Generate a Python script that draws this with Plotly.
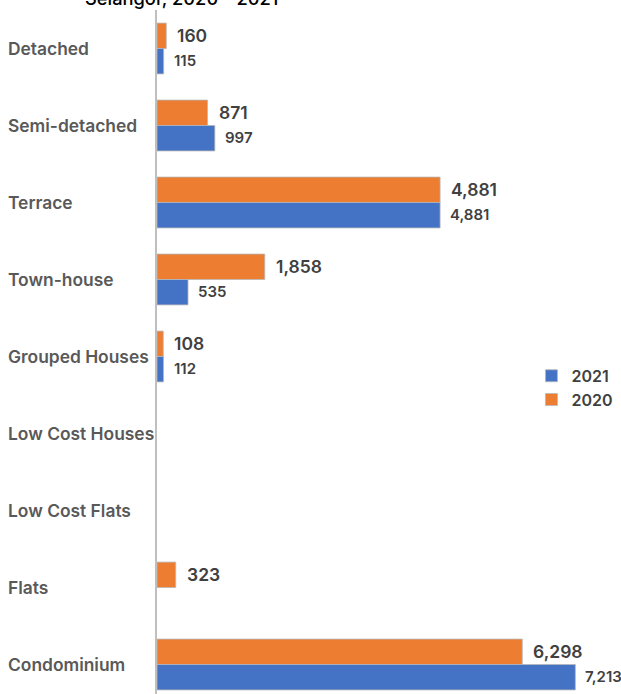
import plotly.graph_objects as go

# Housing categories, top to bottom
categories = [
    "Detached", "Semi-detached", "Terrace", "Town-house", "Grouped Houses",
    "Low Cost Houses", "Low Cost Flats", "Flats", "Condominium",
]
# Units per category and year (None = no units recorded)
values_2020 = [160, 871, 4881, 1858, 108, None, None, 323, 6298]
values_2021 = [115, 997, 4881, 535, 112, None, None, None, 7213]

title_text = "Selangor, 2020 - 2021"

ORANGE = "#ED7D31"
BLUE = "#4472C4"
TEXT = "#404040"
FONT = "Inter"

fig = go.Figure()
fig.add_trace(go.Bar(
    y=categories, x=values_2020, name="2020", orientation="h",
    marker=dict(color=ORANGE, line=dict(color="#B8B8B8", width=0.8)),
))
fig.add_trace(go.Bar(
    y=categories, x=values_2021, name="2021", orientation="h",
    marker=dict(color=BLUE, line=dict(color="#B8B8B8", width=0.8)),
))

annotations = []
# Category labels, left aligned
for c in categories:
    annotations.append(dict(
        x=-0.325, xref="paper", y=c, yref="y", text=c, showarrow=False,
        xanchor="left", yanchor="middle",
        font=dict(family=FONT, size=17.4, color="#595959", weight=600),
    ))
# Value labels next to each bar
for c, v in zip(categories, values_2020):
    if v is not None:
        annotations.append(dict(
            x=v, y=c, xref="x", yref="y", text=f"{v:,}", showarrow=False,
            xanchor="left", yanchor="middle", xshift=9, yshift=13,
            font=dict(family=FONT, size=17.5, color=TEXT, weight=600),
        ))
for c, v in zip(categories, values_2021):
    if v is not None:
        annotations.append(dict(
            x=v, y=c, xref="x", yref="y", text=f"{v:,}", showarrow=False,
            xanchor="left", yanchor="middle", xshift=8, yshift=-12,
            font=dict(family=FONT, size=15, color=TEXT, weight=600),
        ))
# Title (last line sits at the very top edge)
annotations.append(dict(
    x=-0.16, xref="paper", y=1.0, yref="paper", text=title_text,
    showarrow=False, xanchor="left", yanchor="bottom", yshift=-1,
    font=dict(family=FONT, size=18.3, color="#000000", weight=500),
))

fig.update_layout(
    width=621, height=694,
    margin=dict(l=157, r=0, t=10, b=0, autoexpand=False),
    plot_bgcolor="white", paper_bgcolor="white",
    barmode="group", bargap=0.34, bargroupgap=0,
    showlegend=True,
    legend=dict(
        x=0.807, y=0.49, xanchor="left", yanchor="top",
        traceorder="reversed", bgcolor="rgba(0,0,0,0)",
        font=dict(family=FONT, size=16, color=TEXT, weight=600),
        itemwidth=30, tracegroupgap=0,
    ),
    xaxis=dict(range=[0, 8000], showgrid=False, zeroline=False,
               showticklabels=False, showline=False, ticks=""),
    yaxis=dict(categoryorder="array", categoryarray=categories,
               range=[8.383, -0.5], showgrid=False, zeroline=False,
               showticklabels=False, ticks="",
               showline=True, linecolor="#BFBFBF", linewidth=2),
    annotations=annotations,
)

fig.write_html("out.html")
